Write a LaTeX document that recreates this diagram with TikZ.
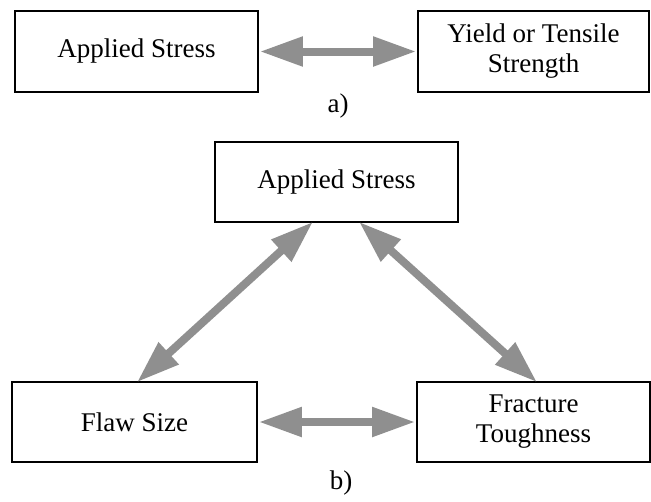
\documentclass[tikz,border=0pt]{standalone}
\usepackage{fontspec}
\setmainfont{Liberation Serif}
\usetikzlibrary{arrows.meta}
\definecolor{arrowgray}{RGB}{143,143,143}
\tikzset{
  box/.style={draw=black, line width=1.6pt, fill=white, inner sep=0pt, align=center,
    minimum height=80pt, font=\fontsize{27}{30}\selectfont},
  lbl/.style={inner sep=0pt, font=\fontsize{27}{30}\selectfont},
  dblarrow/.style={draw=arrowgray, line width=8pt,
    {Triangle[length=43pt,width=28pt]}-{Triangle[length=43pt,width=28pt]}}
}
\begin{document}
\begin{tikzpicture}[x=1pt,y=-1pt]
\useasboundingbox (0,0) rectangle (651,501);
% a)
\node[box, minimum width=243pt, minimum height=81pt] (as1) at (136.5,51.5) {Applied Stress};
\node[box, minimum width=231pt, minimum height=81pt] (ys) at (533.5,51.5) {Yield or Tensile\\Strength};
\node[lbl] (la) at (338,106) {a)};
\draw[dblarrow] ([xshift=1pt]as1.east) -- ([xshift=-1pt]ys.west);
% b)
\node[box, minimum width=243pt] (as2) at (336.5,182) {Applied Stress};
\node[box, minimum width=245pt] (fs) at (134.5,422) {Flaw Size};
\node[box, minimum width=233pt] (ft) at (533.5,422) {Fracture\\Toughness};
\node[lbl] (lb) at (341,483) {b)};
\draw[dblarrow] ([xshift=1pt]fs.east) -- ([xshift=-1pt]ft.west);
\draw[dblarrow] ([xshift=-23.5pt,yshift=1pt]as2.south) -- ([xshift=2.5pt,yshift=-1pt]fs.north);
\draw[dblarrow] ([xshift=22.5pt,yshift=1pt]as2.south) -- ([xshift=3.5pt,yshift=-1pt]ft.north);
\end{tikzpicture}
\end{document}
